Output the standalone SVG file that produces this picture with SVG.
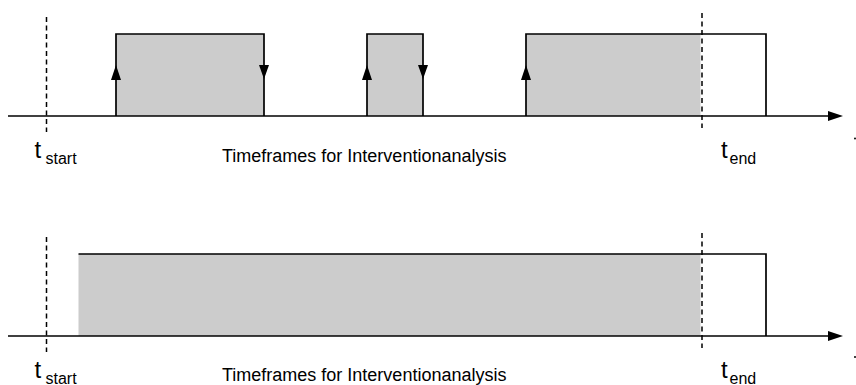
<svg xmlns="http://www.w3.org/2000/svg" width="856" height="385" viewBox="0 0 856 385">
<defs>
<style>
.ln{stroke:#000;stroke-width:1.7;fill:none}
.dash{stroke:#000;stroke-width:1.5;stroke-dasharray:5 3.5;fill:none}
.fill{fill:#cccccc;stroke:none}
.ah{fill:#000;stroke:none}
.t{font-family:"Liberation Sans",Arial,Helvetica,sans-serif;fill:#000}
.big{font-size:24px}
.sub{font-size:16px}
.ttl{font-size:18px}
</style>
</defs>
<rect width="856" height="385" fill="#fff"/>
<g id="panel-top">
  <g id="frame1">
    <rect class="fill" x="116" y="34" width="148" height="82"/>
    <path class="ln" d="M116 116V34H264V116"/>
    <polygon class="ah" points="116,65 111,80 121,80"/>
    <polygon class="ah" points="264,79 259,65 269,65"/>
  </g>
  <g id="frame2">
    <rect class="fill" x="367" y="34" width="56" height="82"/>
    <path class="ln" d="M367 116V34H423V116"/>
    <polygon class="ah" points="367,65 362,80 372,80"/>
    <polygon class="ah" points="423,79 418,65 428,65"/>
  </g>
  <g id="frame3">
    <rect class="fill" x="526" y="34" width="174.5" height="82"/>
    <path class="ln" d="M526 116V34H766V116"/>
    <polygon class="ah" points="526,65 521,80 531,80"/>
  </g>
  <g id="axis-top">
    <line class="ln" x1="8" y1="116" x2="830" y2="116"/>
    <polygon class="ah" points="843,116 828,111 828,121"/>
  </g>
  <line class="dash" x1="46.5" y1="17" x2="46.5" y2="132"/>
  <line class="dash" x1="702" y1="13" x2="702" y2="128"/>
  <g id="labels-top">
    <text class="t big" x="34.5" y="158">t</text>
    <text class="t sub" x="45.5" y="163.5">start</text>
    <text class="t ttl" x="222" y="161.5">Timeframes for Interventionanalysis</text>
    <text class="t big" x="721" y="158">t</text>
    <text class="t sub" x="729.5" y="163.5">end</text>
  </g>
  <circle cx="855" cy="138.5" r="1" fill="#000"/>
</g>
<g id="panel-bottom">
  <g id="frame4">
    <rect class="fill" x="78.5" y="254" width="622" height="82"/>
    <path class="ln" d="M78.5 254H766V336"/>
  </g>
  <g id="axis-bottom">
    <line class="ln" x1="8" y1="336" x2="830" y2="336"/>
    <polygon class="ah" points="843,336 828,331 828,341"/>
  </g>
  <line class="dash" x1="46.5" y1="237" x2="46.5" y2="352"/>
  <line class="dash" x1="702" y1="233" x2="702" y2="348"/>
  <g id="labels-bottom">
    <text class="t big" x="34.5" y="378">t</text>
    <text class="t sub" x="45.5" y="383.5">start</text>
    <text class="t ttl" x="222" y="381">Timeframes for Interventionanalysis</text>
    <text class="t big" x="721" y="378">t</text>
    <text class="t sub" x="729.5" y="383.5">end</text>
  </g>
  <circle cx="855" cy="357" r="1" fill="#000"/>
</g>
</svg>
